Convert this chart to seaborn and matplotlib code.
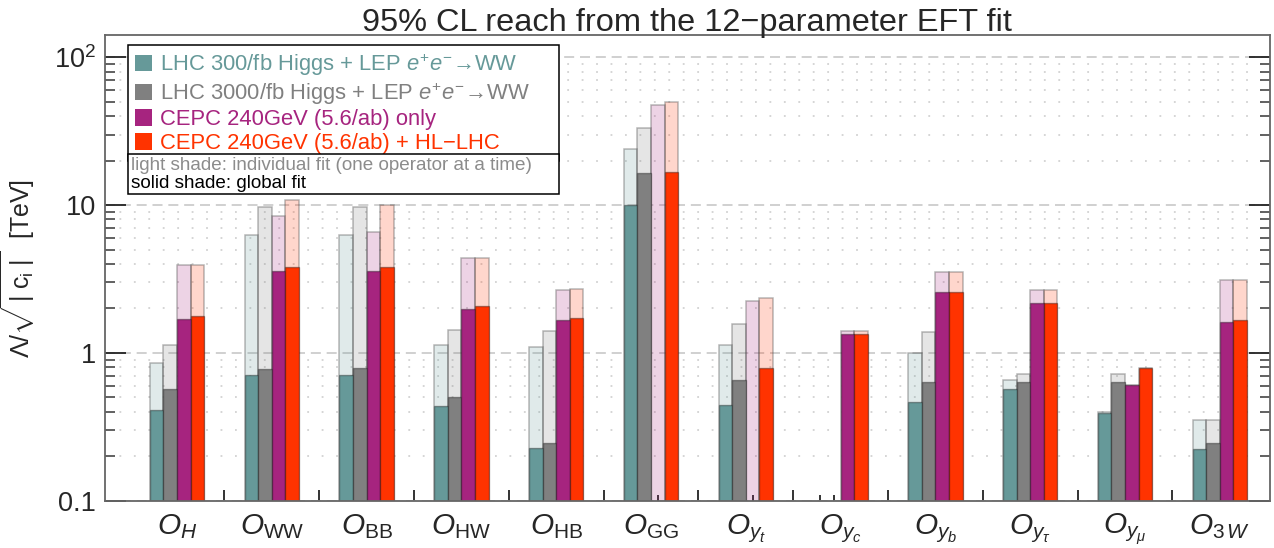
import numpy as np
import pandas as pd
import matplotlib
matplotlib.use("Agg")
import matplotlib.pyplot as plt
import seaborn as sns
from matplotlib import font_manager
from matplotlib.patches import Patch
from matplotlib.ticker import FixedLocator, NullFormatter, FixedFormatter

# ---------------- data ----------------
categories = ["O_H", "O_WW", "O_BB", "O_HW", "O_HB", "O_GG",
              "O_yt", "O_yc", "O_yb", "O_ytau", "O_ymu", "O_3W"]
tick_labels = [r"$O_H$", r"$O_{\mathrm{WW}}$", r"$O_{\mathrm{BB}}$", r"$O_{\mathrm{HW}}$",
               r"$O_{\mathrm{HB}}$", r"$O_{\mathrm{GG}}$", r"$O_{y_t}$", r"$O_{y_c}$",
               r"$O_{y_b}$", r"$O_{y_\tau}$", r"$O_{y_\mu}$", r"$O_{\mathrm{3}\,W}$"]
series = ["LHC 300/fb Higgs + LEP $e^{+}e^{-}$\u2192WW",
          "LHC 3000/fb Higgs + LEP $e^{+}e^{-}$\u2192WW",
          "CEPC 240GeV (5.6/ab) only",
          "CEPC 240GeV (5.6/ab) + HL\u2212LHC"]
nan = np.nan
# individual fit (light shade)
lhc300_ind  = [0.852, 6.31, 6.24, 1.127, 1.09, 24.0, 1.13, nan, 1.00, 0.657, 0.399, 0.351]
lhc3000_ind = [1.127, 9.65, 9.65, 1.42, 1.40, 33.3, 1.58, nan, 1.39, 0.718, 0.718, 0.351]
cepc_ind    = [3.91, 8.48, 6.61, 4.41, 2.67, 47.8, 2.25, 1.40, 3.51, 2.68, 0.605, 3.13]
comb_ind    = [3.93, 10.9, 10.1, 4.41, 2.71, 50.3, 2.36, 1.40, 3.55, 2.68, 0.792, 3.13]
# global fit (solid shade)
lhc300_glob  = [0.410, 0.703, 0.71, 0.434, 0.226, 10.1, 0.445, nan, 0.465, 0.572, 0.389, 0.224]
lhc3000_glob = [0.566, 0.78, 0.785, 0.502, 0.247, 16.4, 0.66, nan, 0.63, 0.63, 0.63, 0.244]
cepc_glob    = [1.69, 3.56, 3.58, 1.98, 1.68, nan, nan, 1.34, 2.57, 2.17, 0.605, 1.63]
comb_glob    = [1.79, 3.79, 3.79, 2.06, 1.73, 16.8, 0.784, 1.34, 2.58, 2.19, 0.792, 1.66]

ytick_vals = [0.1, 1, 10, 100]
ytick_labels = ["0.1", "1", "10", r"$10^2$"]

# ---------------- style ----------------
colors = ["#669999", "#808080", "#A6247F", "#FF3300"]

sns.set_theme(style="white")
names = {f.name for f in font_manager.fontManager.ttflist}
narrow = "Liberation Sans Narrow" if "Liberation Sans Narrow" in names else "Liberation Sans"
plt.rcParams["font.family"] = ["Liberation Sans", "DejaVu Sans"]
plt.rcParams["mathtext.fontset"] = "custom"
plt.rcParams["mathtext.rm"] = narrow
plt.rcParams["mathtext.it"] = narrow + ":italic"
plt.rcParams["mathtext.bf"] = narrow + ":bold"

def long_df(vals_list):
    rows = []
    for s, vals in zip(series, vals_list):
        for c, v in zip(categories, vals):
            rows.append({"cat": c, "series": s, "val": v})
    return pd.DataFrame(rows)

df_ind = long_df([lhc300_ind, lhc3000_ind, cepc_ind, comb_ind])
df_glob = long_df([lhc300_glob, lhc3000_glob, cepc_glob, comb_glob])

fig = plt.figure(figsize=(12.74, 5.48), dpi=100)
ax = fig.add_axes([104.5 / 1274, 1 - 501 / 548, (1270 - 104.5) / 1274, (501 - 35) / 548])

light_pal = {s: matplotlib.colors.to_rgba(c, 0.2) for s, c in zip(series, colors)}
solid_pal = {s: c for s, c in zip(series, colors)}

sns.barplot(data=df_ind, x="cat", y="val", hue="series", order=categories,
            hue_order=series, palette=light_pal, width=0.574, gap=0, dodge=True,
            saturation=1, legend=False, ax=ax, edgecolor=(0.3, 0.3, 0.3, 0.4),
            linewidth=1.1, errorbar=None)
n_light = len(ax.patches)
sns.barplot(data=df_glob, x="cat", y="val", hue="series", order=categories,
            hue_order=series, palette=solid_pal, width=0.574, gap=0, dodge=True,
            saturation=1, legend=False, ax=ax, edgecolor=(0, 0, 0, 0.35),
            linewidth=1.0, errorbar=None)
for p in ax.patches[:n_light]:
    p.set_facecolor(p.get_facecolor()[:3] + (0.2,))

ax.set_yscale("log")
ax.set_ylim(10 ** -1.003, 10 ** 2.152)
ax.set_xlim(-0.765, 11.53)

# grid
ax.set_axisbelow(True)
ax.yaxis.grid(True, which="major", color="#c8c8c8", linestyle=(0, (6, 3.5)), linewidth=1.2)
ax.yaxis.grid(True, which="minor", color="#d2d2d2", linestyle=(0, (1, 7)), linewidth=1.3)
ax.xaxis.grid(False)

# y ticks
ax.yaxis.set_major_locator(FixedLocator(ytick_vals))
ax.yaxis.set_major_formatter(FixedFormatter(ytick_labels))
ax.yaxis.set_minor_formatter(NullFormatter())
ax.tick_params(axis="y", which="major", direction="in", length=15, width=1.3,
               left=True, right=True, labelsize=19.5, color="#222222", pad=6)
ax.tick_params(axis="y", which="minor", direction="in", length=7, width=1.3,
               left=True, right=True, color="#555555")
for lab in ax.get_yticklabels():
    lab.set_fontfamily(narrow)

# x ticks
ax.set_xticks(range(len(categories)))
ax.set_xticklabels(tick_labels)
ax.tick_params(axis="x", which="major", length=0, labelsize=21.5, pad=8)
bw = 0.574 / 4
ax.xaxis.set_minor_locator(FixedLocator([i + (k - 1.5) * bw for i in range(len(categories)) for k in range(4)]))
ax.tick_params(axis="x", which="minor", direction="in", length=4, width=1.2,
               bottom=True, color="#111111")
sec = ax.secondary_xaxis("bottom")
sec.set_xticks([i + 0.5 for i in range(len(categories) - 1)])
sec.set_xticklabels([])
sec.tick_params(axis="x", direction="in", length=8, width=1.2, color="#111111")
sec.spines["bottom"].set_visible(False)

for sp in ax.spines.values():
    sp.set_color("#666666")
    sp.set_linewidth(1.3)

ax.set_xlabel("")
ax.set_ylabel("\u039b/" + r"$\sqrt{\,|\;\mathrm{c_i}\;|\,}$  [TeV]", fontsize=18, labelpad=12,
              fontfamily="Liberation Sans")
ax.set_title("95% CL reach from the 12\u2212parameter EFT fit", fontsize=23.4,
             fontfamily=narrow, pad=3)

# legend
handles = [Patch(facecolor=c, edgecolor="none") for c in colors]
leg1 = ax.legend(handles, series, loc="upper left",
                 bbox_to_anchor=(0.0202, 0.744, 0.370, 0.9796 - 0.744),
                 mode="expand", borderaxespad=0, fontsize=15.8, labelcolor=colors,
                 frameon=True, fancybox=False, framealpha=1, edgecolor="black",
                 handlelength=0.8, handleheight=0.8, handletextpad=0.35,
                 labelspacing=0.12, borderpad=0.3)
leg1.get_frame().set_linewidth(1.1)
ax.add_artist(leg1)
empty = [Patch(facecolor="none", edgecolor="none") for _ in range(2)]
leg2 = ax.legend(empty, ["light shade: individual fit (one operator at a time)",
                         "solid shade: global fit"],
                 loc="upper left", bbox_to_anchor=(0.0202, 0.6567, 0.370, 0.744 - 0.6567),
                 mode="expand", borderaxespad=0, fontsize=13.6,
                 labelcolor=["#8c8c8c", "black"], frameon=True, fancybox=False,
                 framealpha=1, edgecolor="black", handlelength=0, handletextpad=0,
                 labelspacing=0.0, borderpad=0.15)
leg2.get_frame().set_linewidth(1.1)

fig.savefig("out.png", dpi=100)
